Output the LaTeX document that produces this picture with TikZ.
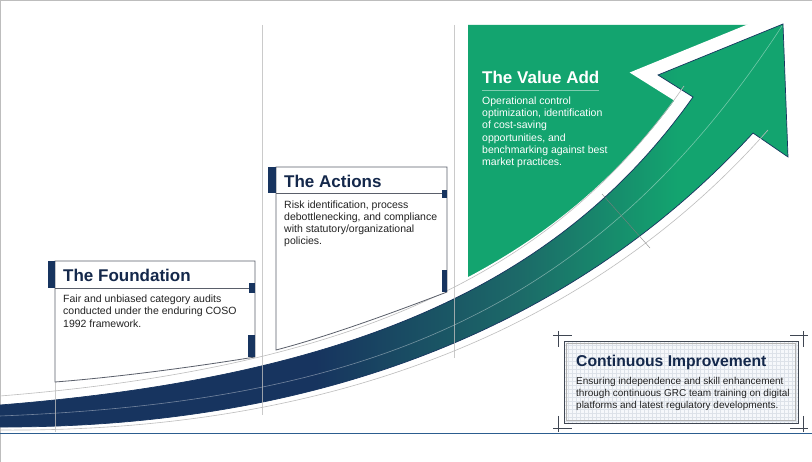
\documentclass[tikz,border=0pt]{standalone}
\usepackage{fontspec}
\setmainfont{Liberation Sans}
\definecolor{navy}{HTML}{14284B}
\definecolor{bnavy}{HTML}{17345F}
\definecolor{bteal}{HTML}{1C6A68}
\definecolor{vgreen}{HTML}{13A46F}
\definecolor{guide}{HTML}{BDBDBD}
\definecolor{cardline}{HTML}{5A5F6A}
\definecolor{bodyc}{HTML}{222222}
\definecolor{baseblue}{HTML}{2C5D8F}
\definecolor{gridc}{HTML}{DDE2E9}
\definecolor{panelbg}{HTML}{F6F8FB}
\definecolor{crossc}{HTML}{3F4652}
\pgfdeclarehorizontalshading{bandshade}{100bp}{color(0bp)=(bnavy); color(45bp)=(bnavy); color(58bp)=(bteal); color(68bp)=(vgreen); color(100bp)=(vgreen)}
\tikzset{
  title/.style={anchor=base west, inner sep=0pt, font=\bfseries\fontsize{17}{20}\selectfont, text=navy},
  body/.style={anchor=base west, inner sep=0pt, text=bodyc},
  card/.style={draw=cardline, line width=0.8pt, fill=white},
  accent/.style={fill=bnavy},
  guideline/.style={draw=guide, line width=0.6pt},
  crossline/.style={draw=crossc, line width=0.7pt},
}
\begin{document}
\begin{tikzpicture}[x=1pt, y=-1pt]
\useasboundingbox (0,0) rectangle (812,462);
\fill[white] (0,0) rectangle (812,462);
% frame
\draw[guide, line width=0.8pt] (0,0.6) -- (812,0.6);
\draw[guide, line width=0.8pt] (0.6,0) -- (0.6,462);

% green panel with white gap
\begin{scope}
  \clip (468,25) rectangle (812,462);
  \fill[vgreen] (468,25) -- (775,25) -- (760,60) -- (720,110) -- (600,235) -- (468,330) -- cycle;
  \draw[white, line width=26pt, line join=miter, miter limit=10]
    (0,405) .. controls (350,377) and (560,285) .. (693,97) -- (658,75) -- (783,24);
\end{scope}

% arrow
\shade[shading=bandshade, draw=bnavy, line width=0.7pt, line join=miter]
  (0,405) .. controls (350,377) and (560,285) .. (693,97) -- (658,75) -- (783,24)
  -- (788,157) -- (753,133) .. controls (600,300) and (360,428) .. (0,427) -- cycle;

% guides
\draw[guideline] (0,396) .. controls (348,368) and (552,277) .. (684,86);
\draw[guideline] (0,430) .. controls (365,433) and (612,307) .. (768,130);
\draw[white, opacity=0.4, line width=0.6pt] (0,416) .. controls (355,402) and (590,320) .. (782,26);
\draw[draw=gray, line width=0.5pt, opacity=0.8] (602,194) -- (650,248);
\draw[guideline, opacity=0.8] (262,25) -- (262,415);
\draw[guideline, opacity=0.8] (454,25) -- (454,358);
\draw[guideline, opacity=0.8] (55,382) -- (55,432);

% bottom line
\draw[baseblue, line width=0.9pt] (0,433) -- (812,433);

% Foundation card
\draw[card] (55,261) -- (255,261) -- (255,357) .. controls (200,366) and (120,377) .. (55,382) -- cycle;
\draw[cardline, line width=0.6pt] (55,288) -- (255,288);
\fill[accent] (48,261) rectangle (55,288);
\fill[accent] (249,283) rectangle (255,293);
\fill[accent] (248,335) rectangle (255,357);
\node[title] (t1) at (63,281.7) {The Foundation};
\node[body, font=\fontsize{10.5}{12.5}\selectfont] (b1) at (63,302.3)
  {\parbox[t]{200pt}{\raggedright Fair and unbiased category audits\\conducted under the enduring COSO\\1992 framework.}};

% Actions card
\draw[card] (276,167) -- (447,167) -- (447,292) .. controls (400,310) and (330,336) .. (276,350) -- cycle;
\draw[cardline, line width=0.6pt] (276,193) -- (447,193);
\fill[accent] (268,167) rectangle (276,193);
\fill[accent] (442,190) rectangle (447,198);
\fill[accent] (442,270) rectangle (447,292);
\node[title] (t2) at (284,187.3) {The Actions};
\node[body, font=\fontsize{10.5}{12.2}\selectfont] (b2) at (284,208.3)
  {\parbox[t]{200pt}{\raggedright Risk identification, process\\debottlenecking, and compliance\\with statutory/organizational\\policies.}};

% Value Add
\node[title, text=white] (t3) at (482,84) {The Value Add};
\draw[white, opacity=0.45, line width=0.6pt] (482,90) -- (599,90);
\node[body, text=white, font=\fontsize{10.5}{12.3}\selectfont] (b3) at (482,104.3)
  {\parbox[t]{200pt}{\raggedright Operational control\\optimization, identification\\of cost-saving\\opportunities, and\\benchmarking against best\\market practices.}};

% Continuous Improvement
\fill[panelbg] (564,341) rectangle (798,423);
\foreach \gx in {568,572,...,796} \draw[gridc, line width=0.35pt] (\gx,341) -- (\gx,423);
\foreach \gy in {345,349,...,421} \draw[gridc, line width=0.35pt] (564,\gy) -- (798,\gy);
\draw[crossc, line width=0.9pt] (564,341) rectangle (798,423);
\draw[gray!60, line width=0.5pt] (566.5,343.5) rectangle (795.5,420.5);
\draw[crossline] (553,335) -- (572,335);
\draw[crossline] (558,331) -- (558,347);
\draw[crossline] (790,335) -- (808,335);
\draw[crossline] (803,331) -- (803,347);
\draw[crossline] (553,428) -- (572,428);
\draw[crossline] (558,416) -- (558,432);
\draw[crossline] (790,428) -- (808,428);
\draw[crossline] (803,416) -- (803,432);
\node[title, font=\bfseries\fontsize{15.7}{18}\selectfont] (t4) at (576,366.7) {Continuous Improvement};
\node[body, font=\fontsize{10}{11.7}\selectfont] (b4) at (576,385)
  {\parbox[t]{230pt}{\raggedright Ensuring independence and skill enhancement\\through continuous GRC team training on digital\\platforms and latest regulatory developments.}};
\end{tikzpicture}
\end{document}
